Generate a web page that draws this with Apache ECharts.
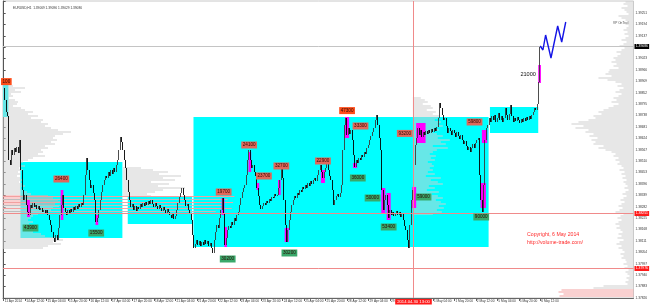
<!DOCTYPE html>
<html><head><meta charset="utf-8">
<script src="https://cdn.jsdelivr.net/npm/echarts@6/dist/echarts.min.js"></script>
<style>html,body{margin:0;padding:0;background:#fff}#c{width:650px;height:306px}</style>
</head><body><div id="c"></div>
<script>
// ---------- DATA ----------
const N_SLOTS = 470;
const tradingDays = ['11 Apr','14 Apr','15 Apr','16 Apr','17 Apr','18 Apr','21 Apr','22 Apr','23 Apr','24 Apr','25 Apr','28 Apr','29 Apr','30 Apr','1 May','2 May','5 May','6 May','7 May','8 May'];
const firstHour = 20;
const xTickLabels = ['11 Apr 2014','14 Apr 12:00','15 Apr 04:00','15 Apr 20:00','16 Apr 12:00','17 Apr 04:00','17 Apr 20:00','18 Apr 12:00','21 Apr 04:00','21 Apr 20:00','22 Apr 12:00','23 Apr 04:00','23 Apr 20:00','24 Apr 12:00','25 Apr 04:00','25 Apr 20:00','28 Apr 12:00','29 Apr 04:00','29 Apr 20:00','30 Apr 12:00','1 May 04:00','1 May 20:00','2 May 12:00','5 May 04:00','5 May 20:00','6 May 12:00'];
const xTickEvery = 16;

// hourly closes, EURUSD H1
const closes = [
1.38876,1.38816,1.38756,1.38736,1.38516,1.38491,1.38566,1.38541,1.38576,1.38556,
1.38581,1.38551,1.38616,1.38466,1.38366,1.38316,1.38341,1.38291,1.38256,1.38241,
1.38291,1.38276,1.38301,1.38281,1.38291,1.38271,1.38286,1.38266,1.38276,1.38256,
1.38266,1.38251,1.38266,1.38241,1.38216,1.38191,1.38156,1.38126,1.38106,1.38141,
1.38116,1.38176,1.38241,1.38291,1.38341,1.38276,1.38256,1.38241,1.38266,1.38251,
1.38271,1.38256,1.38281,1.38266,1.38286,1.38271,1.38296,1.38281,1.38301,1.38291,
1.38341,1.38441,1.38526,1.38466,1.38416,1.38376,1.38391,1.38351,1.38316,1.38206,
1.38226,1.38266,1.38316,1.38356,1.38391,1.38416,1.38436,1.38426,1.38456,1.38436,
1.38466,1.38446,1.38476,1.38456,1.38491,1.38516,1.38566,1.38631,1.38606,1.38566,
1.38516,1.38476,1.38416,1.38356,1.38316,1.38281,1.38296,1.38266,1.38286,1.38261,
1.38281,1.38271,1.38296,1.38281,1.38301,1.38286,1.38306,1.38291,1.38311,1.38296,
1.38316,1.38296,1.38281,1.38301,1.38286,1.38271,1.38291,1.38276,1.38261,1.38281,
1.38266,1.38251,1.38271,1.38256,1.38241,1.38226,1.38246,1.38221,1.38236,1.38266,
1.38301,1.38331,1.38351,1.38376,1.38341,1.38316,1.38286,1.38296,1.38266,1.38246,
1.38216,1.38141,1.38076,1.38096,1.38116,1.38091,1.38111,1.38086,1.38106,1.38091,
1.38116,1.38096,1.38111,1.38086,1.38101,1.38076,1.38051,1.38116,1.38156,1.38191,
1.38176,1.38226,1.38266,1.38326,1.38246,1.38091,1.38126,1.38166,1.38186,1.38176,
1.38206,1.38191,1.38226,1.38211,1.38241,1.38256,1.38291,1.38326,1.38356,1.38376,
1.38391,1.38441,1.38516,1.38566,1.38516,1.38476,1.38491,1.38456,1.38436,1.38376,
1.38336,1.38291,1.38271,1.38286,1.38301,1.38291,1.38311,1.38301,1.38321,1.38311,
1.38331,1.38326,1.38346,1.38336,1.38341,1.38376,1.38416,1.38491,1.38426,1.38316,
1.38191,1.38106,1.38166,1.38216,1.38256,1.38291,1.38316,1.38336,1.38326,1.38351,
1.38341,1.38366,1.38356,1.38381,1.38371,1.38391,1.38376,1.38401,1.38386,1.38411,
1.38396,1.38416,1.38426,1.38411,1.38441,1.38466,1.38491,1.38456,1.38426,1.38456,
1.38476,1.38501,1.38466,1.38436,1.38416,1.38366,1.38291,1.38316,1.38336,1.38346,
1.38331,1.38351,1.38391,1.38566,1.38691,1.38726,1.38641,1.38676,1.38646,1.38666,
1.38616,1.38541,1.38481,1.38516,1.38501,1.38526,1.38516,1.38541,1.38531,1.38556,
1.38546,1.38576,1.38591,1.38616,1.38636,1.38656,1.38676,1.38716,1.38741,1.38691,
1.38626,1.38566,1.38366,1.38266,1.38316,1.38341,1.38291,1.38226,1.38266,1.38241,
1.38256,1.38236,1.38251,1.38261,1.38241,1.38256,1.38231,1.38246,1.38216,1.38186,
1.38166,1.38116,1.38076,1.38191,1.38316,1.38366,1.38491,1.38591,1.38626,1.38676,
1.38641,1.38666,1.38631,1.38656,1.38641,1.38661,1.38646,1.38666,1.38651,1.38671,
1.38656,1.38676,1.38661,1.38681,1.38726,1.38801,1.38776,1.38741,1.38716,1.38726,
1.38686,1.38651,1.38676,1.38661,1.38641,1.38666,1.38651,1.38631,1.38656,1.38636,
1.38621,1.38641,1.38616,1.38596,1.38611,1.38586,1.38566,1.38581,1.38556,1.38576,
1.38596,1.38576,1.38601,1.38616,1.38626,1.38441,1.38316,1.38256,1.38391,1.38616,
1.38676,1.38691,1.38726,1.38706,1.38736,1.38716,1.38741,1.38706,1.38726,1.38751,
1.38716,1.38736,1.38706,1.38726,1.38776,1.38741,1.38716,1.38746,1.38791,1.38736,
1.38706,1.38726,1.38711,1.38731,1.38716,1.38701,1.38721,1.38706,1.38726,1.38711,
1.38731,1.38716,1.38736,1.38721,1.38741,1.38756,1.38776,1.38766,1.38796,1.38906,
1.39086
];

// consolidation zones: [startBar, endBar, priceTop, priceBottom]
const zoneStart  = [0, 13, 93, 142, 363];
const zoneEnd    = [3, 88, 140, 361, 398];
const zoneTop    = [1.38891, 1.38506, 1.38331, 1.38731, 1.38781];
const zoneBottom = [1.38731, 1.38126, 1.38196, 1.38081, 1.38651];

// high-volume bars
const hvStart  = [18, 43, 69, 163, 165, 183, 189, 205, 210, 237, 255, 261, 282, 286, 305, 308, 356, 357, 399];
const hvEnd    = [19, 44, 70, 164, 166, 184, 190, 206, 212, 239, 257, 263, 284, 288, 307, 314, 359, 360, 400];
const hvTop    = [1.38316,1.38366,1.38241,1.38326,1.38181,1.38556,1.38401,1.38416,1.38176,1.38466,1.38731,1.38501,1.38376,1.38351,1.38381,1.38701,1.38401,1.38666,1.38991];
const hvBottom = [1.38231,1.38216,1.38191,1.38241,1.38081,1.38456,1.38366,1.38341,1.38106,1.38401,1.38626,1.38476,1.38251,1.38216,1.38276,1.38601,1.38276,1.38601,1.38901];

// volume tags
const tagBar   = [2, 43, 183, 164, 194, 207, 238, 256, 266, 299, 351, 20, 69, 167, 213, 264, 275, 287, 313, 356, 391];
const tagPrice = [1.38908,1.38421,1.38591,1.38356,1.38436,1.38486,1.38511,1.38763,1.38686,1.38649,1.38706,1.38176,1.38151,1.38021,1.38051,1.38426,1.38326,1.38181,1.38331,1.38231,1.38946];
const tagText  = ['100','26400','24100','19700','23700','32700','22900','47300','33300','93200','59800','43900','15500','30200','30200','36000','50000','53400','59000','90000','21000'];
const tagKind  = ['hot','sell','sell','sell','sell','sell','sell','hot','sell','sell','sell','buy','buy','buy','buy','buy','buy','buy','buy','buy','plain'];

// projected path
const projBar   = [400, 402, 404, 408, 413, 416, 419];
const projPrice = [1.39086, 1.39066, 1.39141, 1.39026, 1.39186, 1.39106, 1.39206];

// volume profiles (relative volume per 1-pip level, from the top level down)
const PROFILE_STEP = 0.0001;
const leftProfileTop = 1.38886;
const leftProfile = [10,22,12,18,8,10,6,12,15,14,10,18,22,30,25,35,28,40,38,45,42,48,55,68,60,52,50,54,48,52,42,45,38,40,35,42,30,25,20,18,22,16,20,15,18,14,17,20,16,19,22,18,20,24,28,45,50,55,57,52,56,50,48,44,35,30,28,25,30,26,32,28,35,30,38,42,55,60,50,58,45,40];
const leftProfileValueArea = [1.38291, 1.38336];
const secondProfileBar = 89;
const secondProfileTop = 1.38476;
const secondProfile = [18,30,45,36,58,40,52,28,46,35,62,40,32,24,28];
const midProfileBar = 305;
const midProfileTop = 1.38826;
const midProfile = [8,12,15,10,18,20,14,23,20,27,25,22,28,25,30,22,26,20,24,30,25,37,28,33,20,35,24,20,17,23,18,22,15,19,21,17,20,15,22,13,28,18,25,30,16,22,14,26,19,25,30,23,28,33,26,31,24,29,20];
const rightProfileTop = 1.39306;
const rightProfile = [8,10,6,12,9,7,5,15,12,8,6,8,5,7,10,6,9,5,8,12,7,10,14,9,12,17,13,16,20,18,22,17,20,15,24,25,28,22,35,26,18,12,16,10,14,18,12,15,20,17,22,15,20,25,30,35,32,40,38,45,55,62,50,58,45,48,40,44,36,42,38,40,30,35,28,22,18,20,15,18,14,16,12,10,14,9,12,8,11,7,10,8,6,9,5,8,11,7,10,13,9,12,15,11,14,18,10,13,16,12,15,18,14,17,13,11,15,12,16,10,14,17,12,15,11,9,13,10,12,8,7,10,6,9,5,8,6,4,7,5,8,6,30,40,72,75,70,74];
const rightProfileValueArea = [1.37836, 1.37866];

// value-area level lines running from the first session: price, last bar, kind
const bandPrices = [1.38336, 1.38321, 1.38306, 1.38291, 1.38276, 1.38261];
const bandEndBar = [172, 167, 171, 163, 170, 158];
const bandKind   = ['pink', 'grey', 'pink', 'grey', 'pink', 'grey'];

// price axis and markers
const priceMin = 1.37826, priceMax = 1.39311, priceStep = 0.00057;
const bidPrice = 1.39086;
const levelPrices = [1.38251, 1.37976];
const crosshairBar = 305;
const crosshairText = '2014.04.30 13:00';
const titleText = 'EURUSD,H1  1.39069 1.39096 1.39029 1.39086';

// ---------- BUILD ----------
const categories = [];
(function () { let d = 0, h = firstHour; while (categories.length < N_SLOTS) { categories.push(tradingDays[d] + ' ' + String(h).padStart(2, '0') + ':00'); h++; if (h === 24) { h = 0; d++; } } })();
const candles = closes.map((c, i) => { const o = i ? closes[i - 1] : c; return [o, c, Math.min(o, c), Math.max(o, c)]; });

const FONT = 'Liberation Sans, Arial, sans-serif';
const chart = echarts.init(document.getElementById('c'), null, { renderer: 'canvas' });

function rectSeries(name, s, e, t, b, color, z) {
  return {
    type: 'custom', name, xAxisIndex: 1, yAxisIndex: 0, z, silent: true, animation: false,
    data: s.map((v, i) => [v, e[i], t[i], b[i]]),
    encode: { x: [0, 1], y: [2, 3] },
    renderItem(params, api) {
      const p0 = api.coord([api.value(0) - 0.5, api.value(2)]);
      const p1 = api.coord([api.value(1) + 0.5, api.value(3)]);
      return { type: 'rect', shape: { x: p0[0], y: p0[1], width: p1[0] - p0[0], height: p1[1] - p0[1] }, style: { fill: color } };
    }
  };
}

function profileSeries(name, top, vols, anchor, dir, va, z) {
  return {
    type: 'custom', name, xAxisIndex: 1, yAxisIndex: 0, z, silent: true, animation: false,
    data: vols.map((v, k) => [anchor, top - k * PROFILE_STEP, v]),
    encode: { x: 0, y: 1 },
    renderItem(params, api) {
      const p = api.coord([api.value(0), api.value(1)]);
      const v = api.value(2), price = api.value(1);
      const hi = va && price >= va[0] - 1e-7 && price <= va[1] + 1e-7;
      const w = v * dir;
      return { type: 'rect', shape: { x: dir > 0 ? p[0] : p[0] + w, y: Math.round(p[1]) - 0.5, width: Math.abs(w), height: 1 },
        style: { fill: hi ? '#f4a2a2' : '#cfcfcf' } };
    }
  };
}

const tagColors = { sell: '#e0685a', hot: '#ff4d1a', buy: '#3aa86a' };
const hLines = [
  { price: bidPrice, line: '#c4c4c4', box: '#000000' },
  { price: levelPrices[0], line: '#f08a8a', box: '#ff1a1a' },
  { price: levelPrices[1], line: '#f08a8a', box: '#ff1a1a' }
];

const option = {
  animation: false,
  backgroundColor: '#ffffff',
  title: { text: titleText, left: 8, top: 2, textStyle: { fontSize: 3.2, fontWeight: 'normal', color: '#333', fontFamily: FONT } },
  grid: { left: 3, right: 15, top: 1, bottom: 8, show: true, borderColor: '#c8c8c8', borderWidth: 1 },
  xAxis: [
    { type: 'category', data: categories, boundaryGap: true,
      axisLine: { lineStyle: { color: '#666', width: 1 } },
      axisTick: { show: true, length: 3, alignWithLabel: true, interval: (i) => i % xTickEvery === 0 && i / xTickEvery < xTickLabels.length, lineStyle: { color: '#666' } },
      axisLabel: { fontSize: 3.2, color: '#333', fontFamily: FONT, margin: 2, align: 'left', padding: [0, 0, 0, 1],
        interval: (i) => i % xTickEvery === 0 && i / xTickEvery < xTickLabels.length,
        formatter: (v, i) => xTickLabels[i / xTickEvery] || '' },
      splitLine: { show: false } },
    { type: 'value', min: -0.5, max: N_SLOTS - 0.5, show: false }
  ],
  yAxis: [
    { type: 'value', position: 'right', min: priceMin, max: priceMax, interval: priceStep, scale: true,
      axisLine: { show: true, lineStyle: { color: '#555' } },
      axisTick: { show: true, length: 2, lineStyle: { color: '#555' } },
      axisLabel: { fontSize: 3.2, color: '#333', fontFamily: FONT, margin: 2, showMaxLabel: false,
        formatter: (v) => v > 1.3928 ? '' : v.toFixed(5) },
      splitLine: { show: false } }
  ],
  series: [
    rectSeries('zones', zoneStart, zoneEnd, zoneTop, zoneBottom, '#00ffff', 1),
    profileSeries('leftProfile', leftProfileTop, leftProfile, -0.5, 1, leftProfileValueArea, 2),
    profileSeries('secondProfile', secondProfileTop, secondProfile, secondProfileBar, 1, null, 2),
    profileSeries('midProfile', midProfileTop, midProfile, midProfileBar, 1, null, 2),
    profileSeries('rightProfile', rightProfileTop, rightProfile, N_SLOTS - 0.5, -1, rightProfileValueArea, 2),
    { type: 'custom', name: 'valueAreaLines', xAxisIndex: 1, yAxisIndex: 0, z: 2, silent: true, animation: false,
      data: bandPrices.map((p, i) => [bandEndBar[i], p]), encode: { x: 0, y: 1 },
      renderItem(params, api) {
        const cs = params.coordSys;
        const p = api.coord([api.value(0), api.value(1)]);
        const y = Math.round(p[1]) + 0.5;
        const pink = bandKind[params.dataIndex] === 'pink';
        return { type: 'line', shape: { x1: cs.x, y1: y, x2: p[0], y2: y }, style: { stroke: pink ? '#f2a0a0' : '#bdbdbd', lineWidth: 1 } };
      } },
    rectSeries('highVolume', hvStart, hvEnd, hvTop, hvBottom, '#ff00ff', 3),
    { type: 'candlestick', name: 'EURUSD', xAxisIndex: 0, yAxisIndex: 0, z: 4, data: candles, barWidth: 1,
      itemStyle: { color: '#3a3a3a', color0: '#000', borderColor: '#3a3a3a', borderColor0: '#000', borderWidth: 0.9 } },
    { type: 'custom', name: 'levels', xAxisIndex: 1, yAxisIndex: 0, z: 5, silent: true, animation: false,
      data: hLines.map(h => [0, h.price]), encode: { x: 0, y: 1 },
      renderItem(params, api) {
        const cs = params.coordSys, h = hLines[params.dataIndex];
        const y = Math.round(api.coord([0, api.value(1)])[1]) + 0.5;
        return { type: 'group', children: [
          { type: 'line', shape: { x1: cs.x, y1: y, x2: cs.x + cs.width, y2: y }, style: { stroke: h.line, lineWidth: 1 } },
          { type: 'text', x: cs.x + cs.width + 1, y: y, style: { text: h.price.toFixed(5), fill: '#fff', font: '3.4px ' + FONT, align: 'left', verticalAlign: 'middle', backgroundColor: h.box, padding: [1, 1.2] } }
        ] };
      } },
    { type: 'custom', name: 'crosshair', xAxisIndex: 1, yAxisIndex: 0, z: 5, silent: true, animation: false,
      data: [[crosshairBar, priceMin]], encode: { x: 0, y: 1 },
      renderItem(params, api) {
        const cs = params.coordSys;
        const x = Math.round(api.coord([api.value(0), api.value(1)])[0]) + 0.5;
        return { type: 'group', children: [
          { type: 'line', shape: { x1: x, y1: cs.y, x2: x, y2: cs.y + cs.height }, style: { stroke: '#f08a8a', lineWidth: 1 } },
          { type: 'text', x: x, y: cs.y + cs.height + 1, style: { text: crosshairText, fill: '#fff', font: '4.2px ' + FONT, align: 'center', verticalAlign: 'top', backgroundColor: '#ff1a1a', padding: [0.8, 2] } }
        ] };
      } },
    { type: 'line', name: 'projection', xAxisIndex: 1, yAxisIndex: 0, z: 6, symbol: 'none', silent: true,
      data: projBar.map((b, i) => [b, projPrice[i]]), lineStyle: { color: '#1414e6', width: 1.4 } },
    { type: 'custom', name: 'tags', xAxisIndex: 1, yAxisIndex: 0, z: 7, silent: true, animation: false,
      data: tagBar.map((b, i) => [b, tagPrice[i]]), encode: { x: 0, y: 1 },
      renderItem(params, api) {
        const p = api.coord([api.value(0), api.value(1)]);
        const k = tagKind[params.dataIndex];
        if (k === 'plain') {
          return { type: 'text', x: p[0], y: p[1], style: { text: tagText[params.dataIndex], fill: '#111', font: '5.6px ' + FONT, align: 'center', verticalAlign: 'middle' } };
        }
        return { type: 'text', x: p[0], y: p[1], style: { text: tagText[params.dataIndex], fill: '#2a0a05', font: '4.6px ' + FONT, align: 'center', verticalAlign: 'middle', backgroundColor: tagColors[k], padding: [1, 1.5] } };
      } }
  ],
  graphic: [
    { type: 'text', left: 613, top: 22, style: { text: 'VP OnTrail', fill: '#444', font: '3.2px ' + FONT } },
    { type: 'text', left: 527, top: 232, style: { text: 'Copyright, 6 May 2014', fill: '#ff2a2a', font: '5.2px ' + FONT } },
    { type: 'text', left: 527, top: 240, style: { text: 'http://volume-trade.com/', fill: '#ff2a2a', font: '5.2px ' + FONT } }
  ]
};
chart.setOption(option);
</script>
</body></html>
